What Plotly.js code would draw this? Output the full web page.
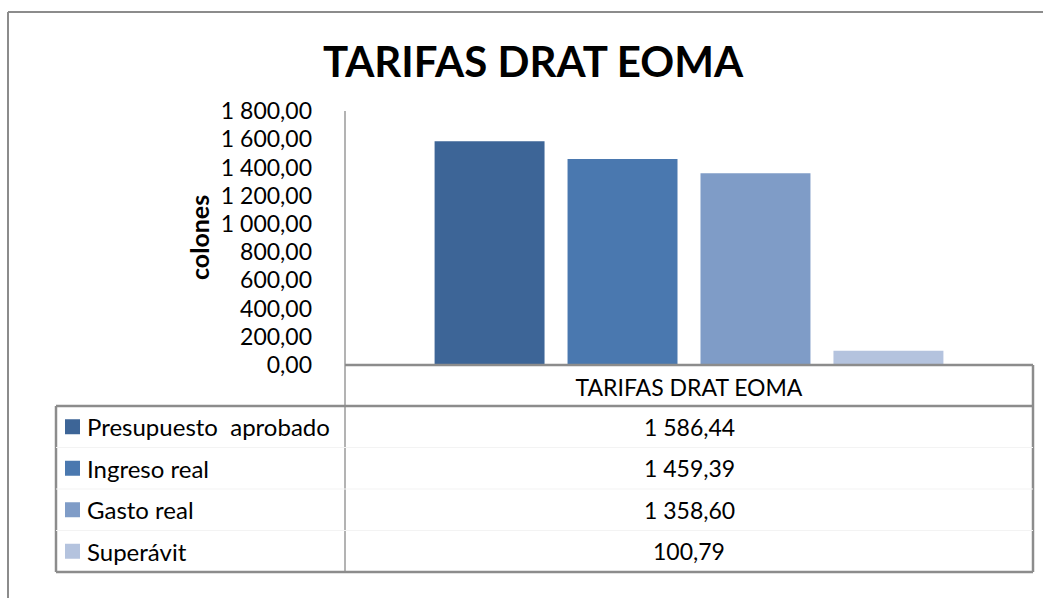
<!DOCTYPE html>
<html>
<head>
<meta charset="utf-8">
<script src="https://cdn.plot.ly/plotly-3.0.1.min.js"></script>
<style>html,body{margin:0;padding:0;background:#fff;}#chart{width:1043px;height:598px;}</style>
</head>
<body>
<div id="chart"></div>
<script>
// ---- data ----
const categories = ['TARIFAS DRAT EOMA'];
const seriesNames = ['Presupuesto  aprobado', 'Ingreso real', 'Gasto real', 'Superávit'];
const seriesValues = [1586.44, 1459.39, 1358.60, 100.79];
const seriesColors = ['#3D6597', '#4A78AF', '#7F9CC7', '#B4C3DE'];
const yTickVals = [0, 200, 400, 600, 800, 1000, 1200, 1400, 1600, 1800];
const chartTitle = 'TARIFAS DRAT EOMA';
const yTitle = 'colones';

// ---- layout geometry (pixels) ----
const W = 1043, H = 598;
const L = 345, R = 1033, T = 111, B = 365;
const px2x = p => (p - L) / (R - L);
const py2y = p => (B - p) / (B - T);
const tableLeft = 56, tableTop = 406, tableBottom = 572;
const rowH = (tableBottom - tableTop) / seriesNames.length;

function fmt(v) {
  const parts = v.toFixed(2).split('.');
  return parts[0].replace(/\B(?=(\d{3})+(?!\d))/g, ' ') + ',' + parts[1];
}

const traces = seriesNames.map((n, i) => ({
  type: 'bar',
  name: n,
  x: categories,
  y: [seriesValues[i]],
  marker: {color: seriesColors[i]},
  hoverinfo: 'name+y'
}));

const lineC = '#8c8c8c';
const shapes = [];
function seg(x0, y0, x1, y1, color, width) {
  shapes.push({type: 'line', xref: 'paper', yref: 'paper',
    x0: px2x(x0), y0: py2y(y0), x1: px2x(x1), y1: py2y(y1),
    line: {color: color, width: width}});
}
// outer chart border (left + top)
seg(8, 12, 1060, 12, lineC, 2);
seg(8, 12, 8, 620, lineC, 2);
// axis and table grid
seg(L, T, L, tableBottom, '#9a9a9a', 1.5);
seg(L, B, R, B, lineC, 2.5);
seg(R, B, R, tableBottom, lineC, 2.5);
seg(tableLeft, tableTop, R, tableTop, lineC, 2.5);
seg(tableLeft, tableBottom, R, tableBottom, lineC, 2.5);
seg(tableLeft, tableTop, tableLeft, tableBottom, lineC, 2.5);
for (let i = 1; i < seriesNames.length; i++) {
  const yy = tableTop + rowH * i;
  seg(tableLeft, yy, R, yy, '#f3f3f3', 1);
}

const annotations = [];
seriesNames.forEach((n, i) => {
  const cy = tableTop + rowH * (i + 0.5);
  // legend key
  shapes.push({type: 'rect', xref: 'paper', yref: 'paper',
    x0: px2x(65), x1: px2x(80), y0: py2y(cy - 7.5), y1: py2y(cy + 7.5),
    fillcolor: seriesColors[i], line: {width: 0}});
  annotations.push({xref: 'paper', yref: 'paper', x: px2x(85), y: py2y(cy),
    xanchor: 'left', yanchor: 'middle', showarrow: false,
    text: n.replace(/  /g, '\u00a0 '), font: {size: 24, color: '#000'}});
  annotations.push({xref: 'paper', yref: 'paper', x: px2x((L + R) / 2), y: py2y(cy),
    xanchor: 'center', yanchor: 'middle', showarrow: false,
    text: fmt(seriesValues[i]), font: {size: 23, color: '#000'}});
});
annotations.push({xref: 'paper', yref: 'paper', x: px2x(199), y: py2y(238),
  xanchor: 'center', yanchor: 'middle', showarrow: false, textangle: -90,
  text: '<b>' + yTitle + '</b>', font: {size: 25, color: '#000'}});

const layout = {
  width: W, height: H,
  margin: {l: L, r: W - R, t: T, b: H - B, pad: 0},
  paper_bgcolor: '#fff', plot_bgcolor: '#fff',
  font: {family: 'Lato, sans-serif', color: '#000', size: 23},
  separators: ', ',
  title: {text: '<b>' + chartTitle + '</b>', font: {size: 42, color: '#000', family: 'Lato, sans-serif'},
    xref: 'paper', x: px2x(533), xanchor: 'center', yref: 'container', y: 1 - 62 / H, yanchor: 'middle'},
  showlegend: false,
  barmode: 'group', bargap: 0.227, bargroupgap: 0.173,
  xaxis: {type: 'category', showgrid: false, zeroline: false, showline: false, ticks: '',
    tickfont: {size: 23, color: '#000'}, ticklabelstandoff: 7, fixedrange: true},
  yaxis: {range: [0, 1800], tickvals: yTickVals, tickformat: ',.2f', showgrid: false,
    zeroline: false, showline: false, ticks: '', ticklabelstandoff: 32,
    tickfont: {size: 23, color: '#000'}, fixedrange: true},
  shapes: shapes,
  annotations: annotations
};

Plotly.newPlot('chart', traces, layout, {displayModeBar: false, staticPlot: true});
</script>
</body>
</html>
